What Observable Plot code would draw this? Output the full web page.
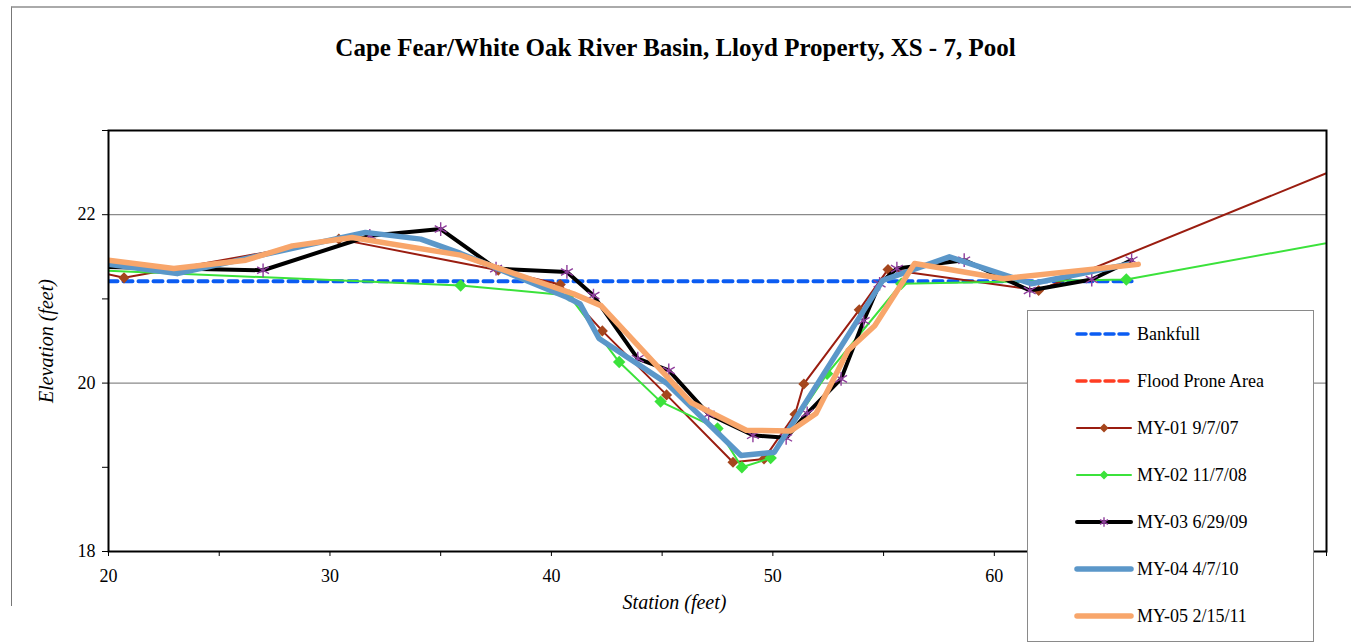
<!DOCTYPE html>
<html>
<head>
<meta charset="utf-8">
<script src="https://cdn.jsdelivr.net/npm/d3@7"></script>
<script src="https://cdn.jsdelivr.net/npm/@observablehq/plot@0.6"></script>
<style>
  body { margin: 0; background: #fff; font-family: "Liberation Serif", "Times New Roman", serif; }
  #chart { position: relative; width: 1351px; height: 644px; overflow: hidden; }
  #outline { position: absolute; left: 11px; top: 6px; width: 1400px; height: 598px;
             border-left: 1.5px solid #777; border-top: 2px solid #aaa; }
  #title { position: absolute; top: 33px; left: 0; width: 1351px; text-align: center;
           font-weight: bold; font-size: 25px; line-height: 30px; color: #000; }
  #plot { position: absolute; left: 0; top: 0; }
  #legend { position: absolute; left: 1027px; top: 310px; }
</style>
</head>
<body>
<div id="chart">
  <div id="outline"></div>
  <div id="plot"></div>
  <div id="title">Cape Fear/White Oak River Basin, Lloyd Property, XS - 7, Pool</div>
  <div id="legend"></div>
</div>
<script>
// Cross-section survey data: station (ft) and elevation (ft) per survey year
const bankfullStation = [20, 66.2];
const bankfullElevation = [21.21, 21.21];

const my01Station = [19.5, 20.7, 30.4, 37.6, 40.4, 42.3, 45.2, 48.2, 49.6, 51.0, 51.4, 53.9, 55.2, 62.0, 76.0];
const my01Elevation = [21.32, 21.25, 21.71, 21.34, 21.17, 20.62, 19.86, 19.06, 19.10, 19.63, 19.99, 20.87, 21.35, 21.10, 22.60];

const my02Station = [19.5, 35.9, 40.8, 43.06, 44.93, 47.5, 48.6, 49.9, 52.45, 55.8, 65.96, 76.0];
const my02Elevation = [21.34, 21.16, 21.04, 20.25, 19.78, 19.46, 19.0, 19.11, 20.11, 21.18, 21.23, 21.71];

const my03Station = [19.5, 26.98, 31.8, 35.0, 37.5, 40.7, 41.9, 43.9, 45.3, 47.1, 49.1, 50.6, 51.55, 53.08, 54.1, 54.82, 55.6, 58.64, 61.6, 64.4, 66.2];
const my03Elevation = [21.38, 21.34, 21.75, 21.83, 21.36, 21.32, 21.04, 20.29, 20.15, 19.63, 19.38, 19.35, 19.64, 20.05, 20.74, 21.18, 21.36, 21.46, 21.10, 21.23, 21.46];

const my04Station = [20, 23.1, 31.6, 34.1, 35.9, 40.7, 41.3, 42.15, 45.2, 48.56, 50.07, 54.96, 57.97, 61.67, 66.0];
const my04Elevation = [21.41, 21.30, 21.79, 21.71, 21.54, 21.02, 20.94, 20.53, 20.0, 19.14, 19.18, 21.22, 21.5, 21.18, 21.41];

const my05Station = [20, 22.95, 26.2, 28.3, 31.0, 35.9, 41.0, 42.24, 46.3, 48.8, 50.8, 51.95, 53.4, 54.6, 56.4, 60.4, 66.5];
const my05Elevation = [21.46, 21.36, 21.46, 21.63, 21.73, 21.52, 21.06, 20.92, 19.77, 19.44, 19.43, 19.64, 20.39, 20.68, 21.42, 21.24, 21.41];

const xTicks = [20, 25, 30, 35, 40, 45, 50, 55, 60, 65, 70, 75];
const xTickLabels = [20, 30, 40, 50, 60];   // 70 sits under the legend box
const yTicks = [18, 19, 20, 21, 22, 23];
const yTickLabels = [18, 20, 22];
const gridValues = [20, 22];

const legendLabels = ["Bankfull", "Flood Prone Area", "MY-01 9/7/07", "MY-02 11/7/08", "MY-03 6/29/09", "MY-04 4/7/10", "MY-05 2/15/11"];

const rows = (xs, ys) => xs.map((x, i) => ({x, y: ys[i]}));
const bankfull = rows(bankfullStation, bankfullElevation);
const my01 = rows(my01Station, my01Elevation);
const my02 = rows(my02Station, my02Elevation);
const my03 = rows(my03Station, my03Elevation);
const my04 = rows(my04Station, my04Elevation);
const my05 = rows(my05Station, my05Elevation);

const C = {
  bank: "#0b5cf2", flood: "#ff3d22",
  my01: "#9a1d10", my01m: "#a5461d",
  my02: "#3be23b", my03: "#000000", my03m: "#8f3d9c",
  my04: "#5b97c9", my05: "#f8a66b"
};

const chart = Plot.plot({
  width: 1351,
  height: 644,
  marginLeft: 108,
  marginRight: 25,
  marginTop: 130,
  marginBottom: 93,
  style: {fontFamily: "'Liberation Serif', 'Times New Roman', serif", fontSize: "18px", color: "#000", background: "transparent", overflow: "visible"},
  x: {domain: [20, 75]},
  y: {domain: [18, 23]},
  marks: [
    Plot.ruleY(gridValues, {stroke: "#8a8a8a", strokeWidth: 1.2}),
    Plot.axisY(yTicks, {tickSize: 6, tickPadding: 7, tickFormat: d => yTickLabels.includes(d) ? d : "", fontSize: 18, stroke: "#000", label: null}),
    Plot.axisX(xTicks, {tickSize: 5, tickPadding: 13, tickFormat: d => xTickLabels.includes(d) ? d : "", fontSize: 18, stroke: "#000", label: null}),
    Plot.line(bankfull, {x: "x", y: "y", stroke: C.bank, strokeWidth: 4, strokeDasharray: "9,6", clip: true}),
    Plot.line(my01, {x: "x", y: "y", stroke: C.my01, strokeWidth: 2, clip: true}),
    Plot.dot(my01, {x: "x", y: "y", symbol: "diamond2", r: 5, fill: C.my01m, stroke: "none", clip: true}),
    Plot.line(my02, {x: "x", y: "y", stroke: C.my02, strokeWidth: 2, clip: true}),
    Plot.dot(my02, {x: "x", y: "y", symbol: "diamond2", r: 5.6, fill: C.my02, stroke: "none", clip: true}),
    Plot.line(my03, {x: "x", y: "y", stroke: C.my03, strokeWidth: 4, strokeLinejoin: "round", clip: true}),
    Plot.dot(my03, {x: "x", y: "y", symbol: "asterisk", r: 6.5, stroke: C.my03m, strokeWidth: 1.4, clip: true}),
    Plot.line(my04, {x: "x", y: "y", stroke: C.my04, strokeWidth: 5.5, strokeLinejoin: "round", clip: true}),
    Plot.line(my05, {x: "x", y: "y", stroke: C.my05, strokeWidth: 5.5, strokeLinejoin: "round", clip: true}),
    Plot.frame({stroke: "#000", strokeWidth: 2}),
    Plot.text(["Elevation (feet)"], {frameAnchor: "left", textAnchor: "middle", lineAnchor: "middle", dx: -62, rotate: -90, fontStyle: "italic", fontSize: 20}),
    Plot.text(["Station (feet)"], {frameAnchor: "bottom", textAnchor: "middle", lineAnchor: "middle", dx: -43, dy: 51, fontStyle: "italic", fontSize: 20})
  ]
});
document.getElementById("plot").appendChild(chart);

// Legend box drawn on top of the plot
const lw = 286, lh = 331, rowGap = 47;
const lg = d3.select("#legend").append("svg").attr("width", lw + 2).attr("height", lh + 2);
lg.append("rect").attr("x", 0.5).attr("y", 0.5).attr("width", lw).attr("height", lh)
  .attr("fill", "#fff").attr("stroke", "#8a8a8a").attr("stroke-width", 1);
const styles = [
  {stroke: C.bank, w: 3.5, dash: "9,5"},
  {stroke: C.flood, w: 3.5, dash: "9,5"},
  {stroke: C.my01, w: 2, marker: "diamond", mfill: C.my01m},
  {stroke: C.my02, w: 2, marker: "diamond", mfill: C.my02},
  {stroke: C.my03, w: 4, marker: "asterisk", mfill: C.my03m},
  {stroke: C.my04, w: 5.5},
  {stroke: C.my05, w: 5.5}
];
legendLabels.forEach((label, i) => {
  const s = styles[i];
  const cy = 24 + i * rowGap;
  const g = lg.append("g").attr("transform", `translate(0,${cy})`);
  g.append("line").attr("x1", 50).attr("x2", 104).attr("y1", 0).attr("y2", 0)
    .attr("stroke", s.stroke).attr("stroke-width", s.w)
    .attr("stroke-linecap", "round")
    .attr("stroke-dasharray", s.dash || null);
  if (s.marker === "diamond") {
    g.append("path").attr("d", "M77,-4.5L81.5,0L77,4.5L72.5,0Z").attr("fill", s.mfill);
  } else if (s.marker === "asterisk") {
    g.append("path").attr("d", d3.symbol(d3.symbolAsterisk, 60)()).attr("transform", "translate(77,0)")
      .attr("stroke", s.mfill).attr("stroke-width", 1.4).attr("fill", "none");
  }
  g.append("text").attr("x", 110).attr("y", 0).attr("dy", "0.35em")
    .attr("font-family", "'Liberation Serif', 'Times New Roman', serif")
    .attr("font-size", 18).attr("fill", "#000").text(label);
});
</script>
</body>
</html>
